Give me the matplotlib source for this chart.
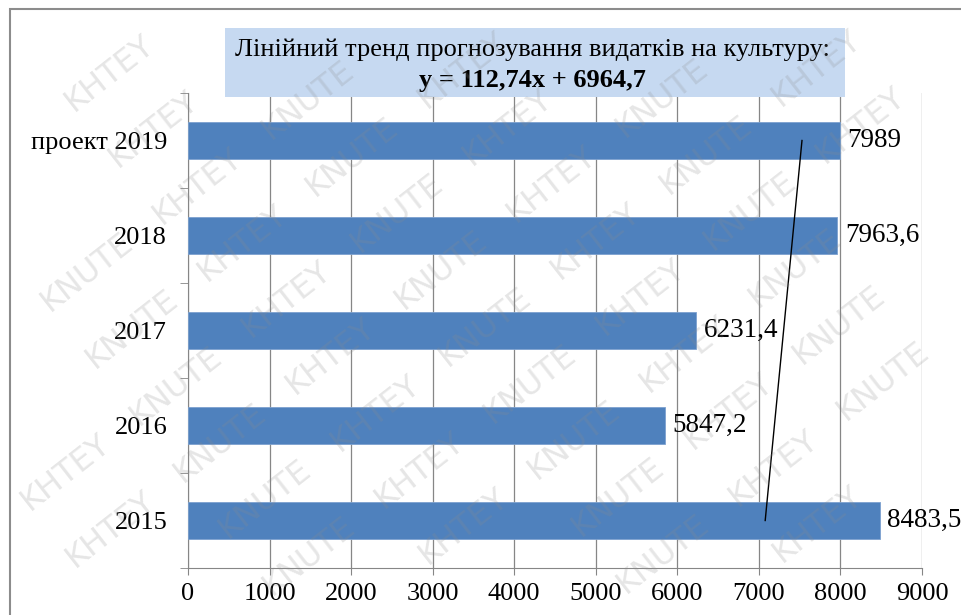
import numpy as np
import matplotlib.pyplot as plt
from matplotlib.patches import Rectangle

categories = ["2015", "2016", "2017", "2018", "проект 2019"]
values = [8483.5, 5847.2, 6231.4, 7963.6, 7989]
value_labels = ["8483,5", "5847,2", "6231,4", "7963,6", "7989"]
trend_slope = 112.74
trend_intercept = 6964.7
title_line1 = "Лінійний тренд прогнозування видатків на культуру:"
title_line2 = "y = 112,74x + 6964,7"
wm_words = ["KNUTE", "KHTEY"]

plt.rcParams['font.family'] = ['Liberation Serif', 'DejaVu Serif']

W, H = 961, 615
fig = plt.figure(figsize=(W / 100, H / 100), dpi=100)
fig.patch.set_facecolor("white")

# outer chart border
fig.patches.append(Rectangle((10 / W, -0.1), 1.2, 1 - 9 / H + 0.1,
                             transform=fig.transFigure, fill=False,
                             edgecolor="#8c8c8c", linewidth=1.5, zorder=1))

ax = fig.add_axes([188 / W, 1 - 568 / H, (922 - 188) / W, (568 - 93) / H])
ax.set_facecolor("none")
ax.set_zorder(2)

pos = np.arange(len(categories))
ax.barh(pos, values, height=0.39, color="#4f81bd", edgecolor="#7da1cf",
        linewidth=0.6, zorder=3)

for p, v, lab in zip(pos, values, value_labels):
    ax.text(v + 90, p, lab, va="center", ha="left", fontsize=19.5, zorder=5)

# linear trend line (x = period number 1..5)
t = pos + 1
trend = trend_slope * t + trend_intercept
ax.plot([trend[0], trend[-1]], [pos[0], pos[-1]], color="black", linewidth=1, zorder=4)

ax.set_xlim(0, 9000)
ax.set_ylim(-0.5, len(categories) - 0.5)
ax.set_xticks(np.arange(0, 9001, 1000))
ax.tick_params(axis="x", labelsize=19, length=5, color="#868686", pad=6)
ax.set_yticks(pos)
ax.set_yticklabels(categories)
ax.set_yticks(np.arange(-0.5, len(categories), 1), minor=True)
ax.tick_params(axis="y", which="major", length=0, labelsize=19, pad=15)
ax.tick_params(axis="y", which="minor", length=6, color="#868686")
ax.grid(axis="x", color="#868686", linewidth=0.9, zorder=1)
ax.set_axisbelow(True)
for s in ["top", "right"]:
    ax.spines[s].set_visible(False)
for s in ["left", "bottom"]:
    ax.spines[s].set_color("#868686")

# title box
fig.patches.append(Rectangle((225 / W, 1 - 97 / H), (845 - 225) / W, (97 - 28) / H,
                             transform=fig.transFigure, facecolor="#c6d9f1",
                             edgecolor="none", zorder=3))
fig.text(532 / W, 1 - 50 / H, title_line1, ha="center", va="center",
         fontsize=19, zorder=4)
fig.text(532 / W, 1 - 80 / H, title_line2, ha="center", va="center",
         fontsize=19, fontweight="bold", zorder=4)

# watermark on top: words along diagonal lines, only those fully inside the figure
ang = np.deg2rad(38)
d = np.array([np.cos(ang), np.sin(ang)])
n = np.array([-np.sin(ang), np.cos(ang)])
for i in range(-20, 20):
    for j in range(-20, 20):
        c = i * 140 * d + j * 72 * n
        if 60 < c[0] < W - 60 and 50 < c[1] < H - 50:
            fig.text(c[0] / W, c[1] / H, wm_words[i % 2], fontsize=23,
                     color=(0.55, 0.55, 0.55, 0.22), family="DejaVu Sans",
                     rotation=38, ha="center", va="center", zorder=10)

fig.savefig("out.png", dpi=100)
